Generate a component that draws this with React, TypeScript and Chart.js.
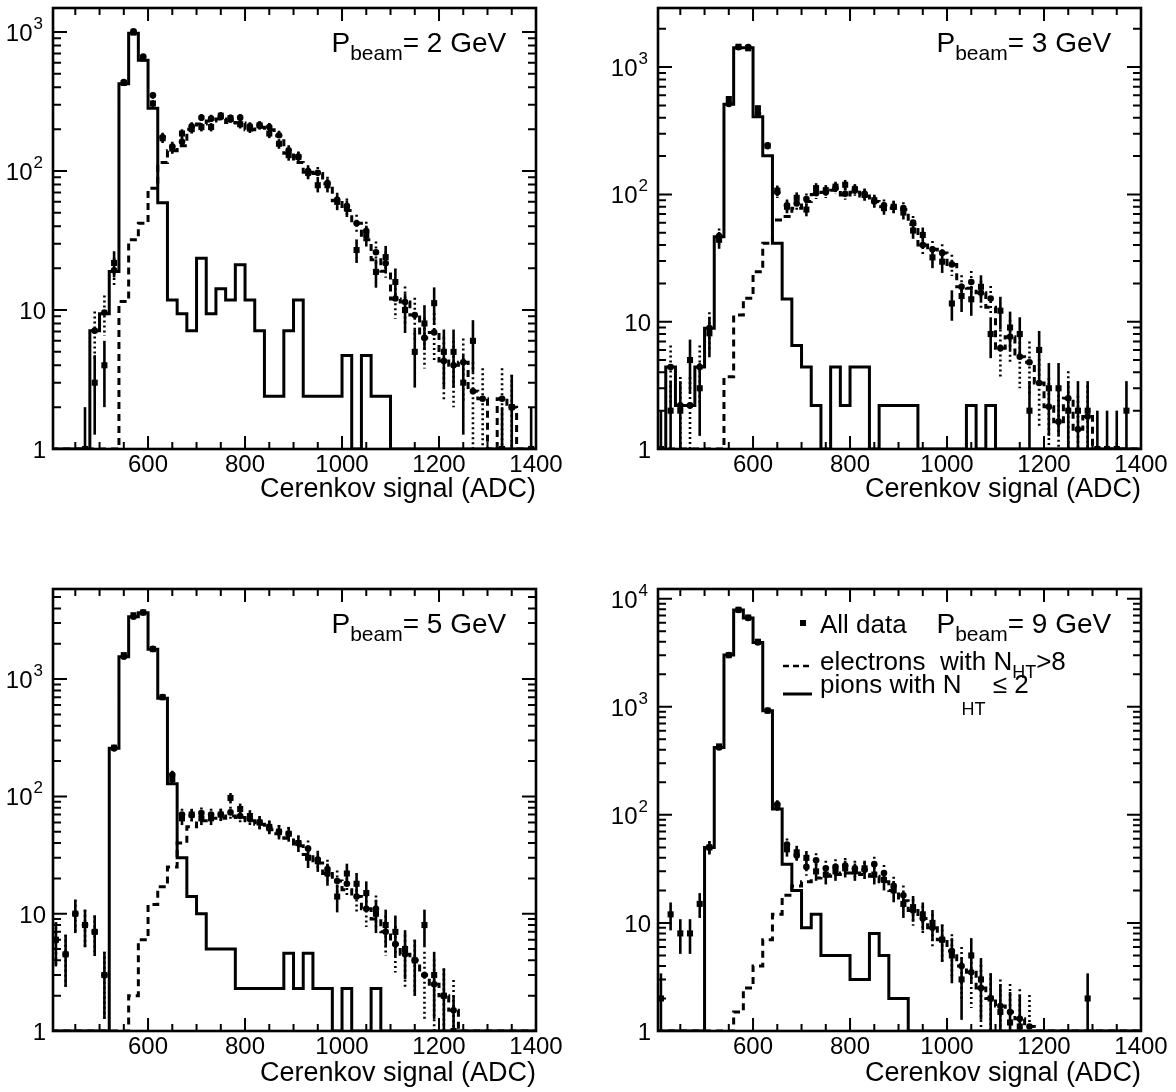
import React, { useEffect, useRef } from "react";
import { Chart, registerables } from "chart.js";

Chart.register(...registerables);

const FONT = "'Liberation Sans', Arial, Helvetica, sans-serif";

// Histogram binning (20 ADC wide bins, low edges)
const BIN_EDGES = [
  400, 420, 440, 460, 480, 500, 520, 540, 560, 580,
  600, 620, 640, 660, 680, 700, 720, 740, 760, 780,
  800, 820, 840, 860, 880, 900, 920, 940, 960, 980,
  1000, 1020, 1040, 1060, 1080, 1100, 1120, 1140, 1160, 1180,
  1200, 1220, 1240, 1260, 1280, 1300, 1320, 1340, 1360, 1380,
];
const BIN_UPPER = 1400;
const X_MIN = 404;
const X_MAX = 1400;
const X_LABELS = [600, 800, 1000, 1200, 1400];
const Y_MIN = 1;

// ---- 2 GeV ----
const PION_2 = [0, 0, 0, 0, 7.1, 9.4, 18.9, 425, 980, 625, 283, 59, 11.8, 9.4, 7.1, 23.6, 9.4, 14.2, 11.8, 21.2, 11.8, 7.1, 2.4, 2.4, 7.1, 11.8, 2.4, 2.4, 2.4, 2.4, 4.7, 0, 4.7, 2.4, 2.4, 0, 0, 0, 0, 0, 0, 0, 0, 0, 0, 0, 0, 0, 0, 0];
const ELEC_2 = [0, 0, 0, 0, 0, 0, 0, 11.5, 32, 42, 75, 115, 140, 152, 200, 218, 229, 237, 223, 221, 198, 206, 198, 179, 134, 115, 98, 96, 81, 61, 52, 42, 32, 23, 19, 12, 11.4, 9.2, 6.3, 6.9, 4.3, 4.0, 4.2, 2.6, 2.3, 0, 2.3, 2.0, 0, 0];
const SUM_2 = [null, null, null, null, 7.1, 9.6, 19.3, 437, 1010, 665, 350, 175, 150, 162, 210, 242, 238, 245, 235, 242, 210, 213, 207, 181, 141, 127, 100, 97, 82, 62, 56, 42, 37, 26, 21.7, 12.1, 11.4, 9.2, 6.3, 6.9, 4.3, 4.0, 4.2, 2.6, 2.3, null, 2.3, 2.0, null, null];
const DATA_2 = [null, null, null, 1, 3, 4, 21.8, 430, 990, 645, 306, 172, 145, 186, 200, 207, 207, 250, 240, 217, 202, 213, 186, 157, 130, 126, 97, 79, 79, 60, 54, 27, 34.5, 18.8, 24, 15.9, 10, 5, 8, 11.2, 5, 5, 3, 6, null, null, 1, 2, null, 1];

// ---- 3 GeV ----
const PION_3 = [0, 4.4, 2.2, 2.2, 4.4, 8.9, 46.5, 510, 1420, 1420, 408, 201, 41.3, 15.1, 6.5, 4.4, 2.2, 0, 4.4, 2.2, 4.4, 4.4, 0, 2.2, 2.2, 2.2, 2.2, 0, 0, 0, 0, 0, 2.2, 0, 2.2, 0, 0, 0, 0, 0, 0, 0, 0, 0, 0, 0, 0, 0, 0, 0];
const ELEC_3 = [0, 0, 0, 0, 0, 0, 0, 3.7, 11.3, 15.3, 24.7, 41.3, 63, 67, 78, 88, 100, 104, 108, 99, 104, 97, 88, 80, 78, 76, 58, 40, 37, 34.7, 28.2, 18.8, 18.3, 16.9, 13, 6.2, 7.6, 5.3, 4.8, 3.3, 2.15, 1.64, 2.5, 1.43, 1.8, 0, 0, 0, 0, 0];
const SUM_3 = [null, 4.4, 2.2, 2.2, 4.4, 8.9, 47, 514, 1430, 1435, 433, 242, 104, 82, 85, 92, 102, 104, 112, 101, 108, 101, 88, 82, 80, 78, 60, 40, 37, 34.7, 28.2, 18.8, 20.5, 16.9, 15.2, 6.2, 7.6, 5.3, 4.8, 3.3, 2.15, 1.64, 2.5, 1.43, 1.8, null, null, null, null, null];
const DATA_3 = [1, 2, 2, 5, 3, 8.1, 44, 561, 1445, 1405, 475, 241, 107, 80, 94, 76, 112, 108, 115, 119, 110, 99, 90, 78, 80, 72, 52, 48, 32, 29.6, 13.9, 15.9, 15, 18.8, 8, 12.2, 9, 8, 2, 6, 3, 3, 2, 2, 2, 1, 1, 1, 2, null];

// ---- 5 GeV ----
const PION_5 = [0, 0, 0, 0, 0, 0, 257, 1553, 3400, 3680, 1796, 686, 128, 30, 14, 10, 5, 5, 5, 2.3, 2.3, 2.3, 2.3, 2.3, 4.6, 2.3, 4.6, 2.3, 2.3, 0, 2.3, 0, 0, 2.3, 0, 0, 0, 0, 0, 0, 0, 0, 0, 0, 0, 0, 0, 0, 0, 0];
const ELEC_5 = [0, 0, 0, 0, 0, 0, 0, 0, 2, 6, 12, 17, 25, 40, 55, 62, 65, 65, 68, 66, 62, 58, 52, 48, 44, 38, 32, 27, 22, 19, 16, 14, 11, 9, 7, 5.5, 4.5, 4, 3, 2.5, 2, 1.5, 0, 0, 0, 0, 0, 0, 0, 0];
const SUM_5 = [6, 4.5, 10, 8, 7, 3, 257, 1553, 3402, 3686, 1808, 703, 153, 70, 69, 72, 70, 70, 73, 68, 64, 60, 54, 50, 48, 40, 36, 29, 24, 19, 18, 14, 11, 11, 7, 5.5, 4.5, 4, 3, 2.5, 2, 1.5, null, null, null, null, null, null, null, null];
const DATA_5 = [6, 4.5, 10, 8, 7, 3, 260, 1600, 3500, 3700, 1800, 700, 140, 65, 70, 65, 65, 70, 97, 78, 68, 60, 55, 50, 48, 40, 30, 28, 22, 14, 22, 18, 15, 10, 8, 7, 5, 4, 8, 3, 2, 1, null, null, null, null, null, null, null, null];

// ---- 9 GeV ----
const PION_9 = [0, 0, 0, 0, 0, 50, 420, 3010, 7860, 6620, 3940, 918, 113, 35, 20, 9, 12, 5, 5, 5, 3, 3, 8, 5, 2, 2, 0, 0, 0, 0, 0, 0, 0, 0, 0, 0, 0, 0, 0, 0, 0, 0, 0, 0, 0, 0, 0, 0, 0, 0];
const ELEC_9 = [0, 0, 0, 0, 0, 0, 0, 0, 1.5, 2.5, 4, 7, 12, 18, 22, 24, 26, 27, 28, 29, 29, 28, 27, 24, 20, 16, 13, 11, 9, 7, 5.5, 4, 3.5, 2.5, 2, 1.7, 1.5, 1.3, 1.1, 0, 0, 0, 0, 0, 0, 0, 0, 0, 0, 0];
const SUM_9 = [null, null, null, null, null, 50, 420, 3010, 7862, 6623, 3944, 925, 125, 53, 42, 33, 38, 32, 33, 34, 32, 31, 35, 29, 22, 18, 13, 11, 9, 7, 5.5, 4, 3.5, 2.5, 2, 1.7, 1.5, 1.3, 1.1, null, null, null, null, null, null, null, null, null, null, null];
const DATA_9 = [2, 12, 8, 8, 15, 50, 430, 3000, 7900, 6700, 4000, 920, 120, 48, 45, 40, 30, 28, 30, 32, 30, 32, 28, 25, 20, 15, 14, 12, 10, 7, 5, 3, 5, 3, 2, 1.5, 1.2, 1.1, null, null, null, null, null, null, 2, null, null, null, null, null];

type Series = (number | null)[];

interface PanelSpec {
  beam: string;
  pion: Series;
  elec: Series;
  sum: Series;
  data: Series;
  yMax: number;
  left: number;
  top: number;
  frame: { l: number; t: number; r: number; b: number };
  titlePad: number;
  legend: boolean;
}

const CW = 588;
const CH = 546;

const PANELS: PanelSpec[] = [
  { beam: "2", pion: PION_2, elec: ELEC_2, sum: SUM_2, data: DATA_2, yMax: 1488, left: 0, top: 0, frame: { l: 53, t: 8, r: 536, b: 449 }, titlePad: 40, legend: false },
  { beam: "3", pion: PION_3, elec: ELEC_3, sum: SUM_3, data: DATA_3, yMax: 2912, left: 588, top: 0, frame: { l: 70, t: 8, r: 553, b: 449 }, titlePad: 40, legend: false },
  { beam: "5", pion: PION_5, elec: ELEC_5, sum: SUM_5, data: DATA_5, yMax: 5860, left: 0, top: 546, frame: { l: 53, t: 43, r: 536, b: 485 }, titlePad: 2, legend: false },
  { beam: "9", pion: PION_9, elec: ELEC_9, sum: SUM_9, data: DATA_9, yMax: 12300, left: 588, top: 546, frame: { l: 70, t: 43, r: 553, b: 485 }, titlePad: 2, legend: true },
];

const binWidth = BIN_EDGES[1] - BIN_EDGES[0];

// Step outline of a histogram; empty bins sit on the axis floor like ROOT does
function stepPoints(vals: Series) {
  const pts = BIN_EDGES.map((e, i) => ({ x: e, y: Math.max(vals[i] ?? 0, Y_MIN) }));
  pts.push({ x: BIN_UPPER, y: Math.max(vals[vals.length - 1] ?? 0, Y_MIN) });
  return pts;
}

function markerPoints(vals: Series) {
  return BIN_EDGES.map((e, i) => ({ x: e + binWidth / 2, y: vals[i] }));
}

function drawErrorBars(chart: any, vals: Series, dash: number[]) {
  const { ctx, chartArea: a, scales } = chart;
  const x = scales.x;
  const y = scales.y;
  ctx.save();
  ctx.beginPath();
  ctx.rect(a.left, a.top, a.right - a.left, a.bottom - a.top);
  ctx.clip();
  ctx.strokeStyle = "#000";
  ctx.lineWidth = 2.6;
  ctx.setLineDash(dash);
  vals.forEach((v, i) => {
    if (v == null || v <= 0) return;
    const err = Math.sqrt(v);
    const px = x.getPixelForValue(BIN_EDGES[i] + binWidth / 2);
    const top = y.getPixelForValue(v + err);
    const low = v - err;
    const bot = low > Y_MIN ? y.getPixelForValue(low) : a.bottom;
    ctx.beginPath();
    ctx.moveTo(px, top);
    ctx.lineTo(px, bot);
    ctx.stroke();
  });
  ctx.restore();
}

function drawSubText(ctx: CanvasRenderingContext2D, parts: { t: string; size: number; dy: number }[], x: number, y: number) {
  let cx = x;
  for (const p of parts) {
    ctx.font = `${p.size}px ${FONT}`;
    ctx.fillText(p.t, cx, y + p.dy);
    cx += ctx.measureText(p.t).width;
  }
}

const decorPlugin = {
  id: "rootDecor",
  beforeDatasetsDraw(chart: any) {
    const o = chart.options.plugins.rootDecor;
    drawErrorBars(chart, o.sum, [2, 3]);
    drawErrorBars(chart, o.data, []);
  },
  afterDraw(chart: any) {
    const o = chart.options.plugins.rootDecor;
    const { ctx, chartArea: a, scales } = chart;
    const x = scales.x;
    const y = scales.y;
    ctx.save();
    ctx.strokeStyle = "#000";
    ctx.fillStyle = "#000";
    ctx.setLineDash([]);

    // frame
    ctx.lineWidth = 2.6;
    ctx.strokeRect(a.left, a.top, a.right - a.left, a.bottom - a.top);

    // x ticks (inside, top and bottom)
    ctx.lineWidth = 2;
    for (let v = Math.ceil(x.min / 50) * 50; v <= x.max; v += 50) {
      const px = x.getPixelForValue(v);
      const len = v % 200 === 0 ? 13 : 7;
      ctx.beginPath();
      ctx.moveTo(px, a.bottom);
      ctx.lineTo(px, a.bottom - len);
      ctx.moveTo(px, a.top);
      ctx.lineTo(px, a.top + len);
      ctx.stroke();
    }
    // y ticks (log decades with 2..9 subdivisions)
    for (let k = 0; Math.pow(10, k) <= y.max; k++) {
      for (let m = 1; m <= 9; m++) {
        const v = m * Math.pow(10, k);
        if (v < y.min || v > y.max) continue;
        const py = y.getPixelForValue(v);
        const len = m === 1 ? 14 : 8;
        ctx.beginPath();
        ctx.moveTo(a.left, py);
        ctx.lineTo(a.left + len, py);
        ctx.moveTo(a.right, py);
        ctx.lineTo(a.right - len, py);
        ctx.stroke();
      }
    }

    // x labels
    ctx.font = `24px ${FONT}`;
    ctx.textAlign = "center";
    ctx.textBaseline = "alphabetic";
    for (const v of X_LABELS) {
      ctx.fillText(String(v), x.getPixelForValue(v), a.bottom + 23);
    }

    // y labels
    ctx.textAlign = "right";
    for (let k = 0; Math.pow(10, k) <= y.max; k++) {
      const py = y.getPixelForValue(Math.pow(10, k));
      if (k < 2) {
        ctx.font = `24px ${FONT}`;
        ctx.fillText(k === 0 ? "1" : "10", a.left - 7, py + 9);
      } else {
        ctx.font = `17px ${FONT}`;
        ctx.fillText(String(k), a.left - 10, py - 3);
        const sw = ctx.measureText(String(k)).width;
        ctx.font = `24px ${FONT}`;
        ctx.fillText("10", a.left - 11 - sw, py + 9);
      }
    }

    // beam momentum label
    ctx.textAlign = "left";
    const bx = a.left + 278.5;
    const by = a.top + 44.3;
    drawSubText(ctx, [
      { t: "P", size: 28, dy: 0 },
      { t: "beam", size: 21, dy: 8 },
      { t: `= ${o.beam} GeV`, size: 28, dy: 0 },
    ], bx, by);

    // legend
    if (o.legend) {
      const lx = a.left + 125;
      const tx = a.left + 162;
      ctx.fillRect(a.left + 145 - 3, a.top + 34 - 3, 6, 6);
      ctx.lineWidth = 2.6;
      ctx.setLineDash([6, 4]);
      ctx.beginPath();
      ctx.moveTo(lx, a.top + 77);
      ctx.lineTo(lx + 29, a.top + 77);
      ctx.stroke();
      ctx.setLineDash([]);
      ctx.lineWidth = 3;
      ctx.beginPath();
      ctx.moveTo(lx, a.top + 105);
      ctx.lineTo(lx + 29, a.top + 105);
      ctx.stroke();
      drawSubText(ctx, [{ t: "All data", size: 26, dy: 0 }], tx, a.top + 44);
      drawSubText(ctx, [
        { t: "electrons  with N", size: 26, dy: 0 },
        { t: "HT", size: 18, dy: 8 },
        { t: ">8", size: 26, dy: 0 },
      ], tx, a.top + 81);
      drawSubText(ctx, [
        { t: "pions with N", size: 26, dy: 0 },
        { t: "HT", size: 18, dy: 22 },
        { t: " \u2264 2", size: 26, dy: 0 },
      ], tx, a.top + 104);
    }
    ctx.restore();
  },
};

function Panel({ spec }: { spec: PanelSpec }) {
  const ref = useRef<HTMLCanvasElement>(null);
  useEffect(() => {
    const f = spec.frame;
    const chart = new Chart(ref.current as HTMLCanvasElement, {
      type: "line",
      data: {
        datasets: [
          {
            label: "All data",
            data: markerPoints(spec.data) as any,
            showLine: false,
            pointStyle: "rect",
            pointRadius: 4.3,
            pointBackgroundColor: "#000",
            pointBorderColor: "#000",
            pointBorderWidth: 0,
          },
          {
            label: "sum",
            data: markerPoints(spec.sum) as any,
            showLine: false,
            pointStyle: "circle",
            pointRadius: 3.3,
            pointBackgroundColor: "#000",
            pointBorderColor: "#000",
            pointBorderWidth: 0,
          },
          {
            label: "pions",
            data: stepPoints(spec.pion),
            stepped: "before",
            borderColor: "#000",
            borderWidth: 3,
            pointRadius: 0,
            fill: false,
          },
          {
            label: "electrons",
            data: stepPoints(spec.elec),
            stepped: "before",
            borderColor: "#000",
            borderWidth: 3,
            borderDash: [7, 5],
            pointRadius: 0,
            fill: false,
          },
        ],
      },
      options: {
        animation: false,
        responsive: false,
        devicePixelRatio: 1,
        events: [],
        layout: { padding: { top: f.t, right: CW - f.r, left: 0, bottom: 0 } },
        plugins: {
          legend: { display: false },
          tooltip: { enabled: false },
          rootDecor: { beam: spec.beam, sum: spec.sum, data: spec.data, legend: spec.legend },
        } as any,
        scales: {
          x: {
            type: "linear",
            min: X_MIN,
            max: X_MAX,
            ticks: { display: false },
            grid: { display: false },
            border: { display: false },
            title: {
              display: true,
              text: "Cerenkov signal (ADC)",
              align: "end",
              color: "#000",
              font: { family: FONT, size: 27 },
              padding: { top: 0, bottom: spec.titlePad },
            },
            afterFit: (s: any) => {
              s.height = CH - f.b;
            },
          },
          y: {
            type: "logarithmic",
            min: Y_MIN,
            max: spec.yMax,
            ticks: { display: false },
            grid: { display: false },
            border: { display: false },
            afterFit: (s: any) => {
              s.width = f.l;
            },
          },
        },
      },
      plugins: [decorPlugin],
    });
    return () => chart.destroy();
  }, [spec]);
  return (
    <canvas
      ref={ref}
      width={CW}
      height={CH}
      style={{ position: "absolute", left: spec.left, top: spec.top, width: CW, height: CH, display: "block" }}
    />
  );
}

export default function App() {
  return (
    <div style={{ position: "absolute", left: 0, top: 0, width: 1176, height: 1092, background: "#fff" }}>
      {PANELS.map((p) => (
        <Panel key={p.beam} spec={p} />
      ))}
    </div>
  );
}
